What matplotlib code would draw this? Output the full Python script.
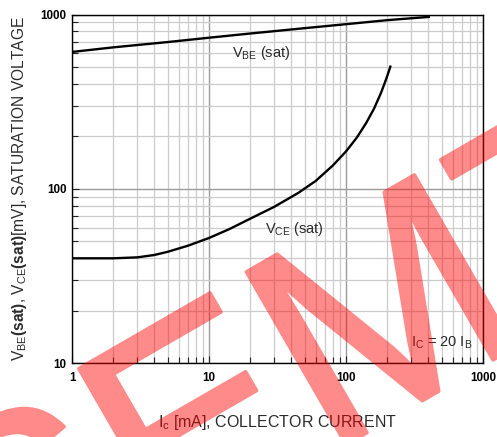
import matplotlib
matplotlib.use('Agg')
import matplotlib.pyplot as plt
from matplotlib import font_manager
from matplotlib import patheffects
from matplotlib.ticker import LogLocator, NullFormatter, FixedLocator, FixedFormatter
import numpy as np

# ---------------- data ----------------
ic_vbe = [1, 2, 5, 10, 20, 50, 100, 200, 410]
vbe_sat = [610, 648, 695, 736, 778, 835, 880, 928, 970]

ic_vce = [1, 2, 3, 4, 5, 7, 10, 14, 20, 30, 45, 60, 80, 100, 120, 140, 160, 180, 195, 205, 212]
vce_sat = [40, 40, 40.5, 41.8, 43.6, 47.2, 52.3, 58.7, 67.5, 79, 95, 111, 136, 164, 197, 238,
           288, 355, 420, 470, 510]

x_ticks = [1, 10, 100, 1000]
x_tick_labels = ['1', '10', '100', '1000']
y_ticks = [10, 100, 1000]
y_tick_labels = ['10', '100', '1000']

# ---------------- fonts ----------------
names = {f.name for f in font_manager.fontManager.ttflist}
narrow = 'Liberation Sans Narrow' if 'Liberation Sans Narrow' in names else 'Liberation Sans'
plt.rcParams['font.family'] = ['Liberation Sans', 'DejaVu Sans']
plt.rcParams['mathtext.fontset'] = 'custom'
plt.rcParams['mathtext.rm'] = 'Liberation Sans'
plt.rcParams['mathtext.it'] = 'Liberation Sans:italic'
plt.rcParams['mathtext.bf'] = 'Liberation Sans:bold'

W, H = 497, 437
fig = plt.figure(figsize=(W / 100, H / 100), dpi=100)
L, R, T, B = 72, 483, 14.5, 363.3
ax = fig.add_axes([L / W, 1 - B / H, (R - L) / W, (B - T) / H])
ax.set_xscale('log')
ax.set_yscale('log')
ax.set_xlim(1, 1000)
ax.set_ylim(10, 1000)

ax.set_axisbelow(True)
ax.grid(which='major', color='#9c9c9c', lw=1.0)
ax.grid(which='minor', color='#cccccc', lw=0.9)

ax.plot(ic_vbe, vbe_sat, color='black', lw=1.7, solid_capstyle='butt')
ax.plot(ic_vce, vce_sat, color='black', lw=1.7, solid_capstyle='butt')

ax.xaxis.set_major_locator(FixedLocator(x_ticks))
ax.xaxis.set_major_formatter(FixedFormatter(x_tick_labels))
ax.yaxis.set_major_locator(FixedLocator(y_ticks))
ax.yaxis.set_major_formatter(FixedFormatter(y_tick_labels))
for a in (ax.xaxis, ax.yaxis):
    a.set_minor_locator(LogLocator(base=10, subs=np.arange(2, 10)))
    a.set_minor_formatter(NullFormatter())

ax.tick_params(which='both', direction='in', width=0.8, color='#222222',
               labelsize=8.4, labelcolor='black')
ax.tick_params(which='major', length=5)
ax.tick_params(which='minor', length=4)
ax.tick_params(axis='x', pad=6)
ax.tick_params(axis='y', pad=4)
for lab in ax.get_xticklabels() + ax.get_yticklabels():
    lab.set_fontweight('bold')

for s in ax.spines.values():
    s.set_color('black')
    s.set_linewidth(1.0)

ax.set_xlabel(r'I$_\mathregular{c}$ [mA], COLLECTOR CURRENT', fontsize=11.5,
              color='#2a2a2a', va='center')
ax.xaxis.set_label_coords(0.5, (B - 422) / (B - T))
ax.set_ylabel(r'V$_\mathregular{BE}$$\mathbf{(sat)}$, V$_\mathregular{CE}$$\mathbf{(sat)}$[mV], SATURATION VOLTAGE',
              fontsize=11.2, color='#2a2a2a', va='center')
ax.yaxis.set_label_coords((20 - L) / (R - L), 0.5)

ann = dict(family=[narrow, 'Liberation Sans'], fontsize=10.5, color='#2a2a2a',
           ha='left', va='baseline')
ax.text(14.7, 568, r'V$_\mathregular{BE}$ (sat)', **ann)
ax.text(25.6, 55.9, r'V$_\mathregular{CE}$ (sat)', **ann)
ax.text(298, 12.4, r'I$_\mathregular{C}$ = 20 I$_\mathregular{B}$', **ann)

# ---------------- watermark ----------------
def _fade(img, dpi):
    img = img.copy()
    img[..., 3] *= 0.46
    return img, 0, 0

em = 290.0
wx, wy = -9.5, 650.0   # image pixel coords of baseline origin
wm = fig.text(wx / W, 1 - wy / H, 'SEMTECH', fontsize=em * 72 / 100,
              family='Liberation Sans', color=(1, 0, 0),
              rotation=30, rotation_mode='anchor', ha='left', va='baseline')
wm.set_path_effects([patheffects.Stroke(linewidth=2.6, foreground=(1, 0, 0)),
                     patheffects.Normal()])
wm.set_agg_filter(_fade)

fig.savefig('out.png', dpi=100)
